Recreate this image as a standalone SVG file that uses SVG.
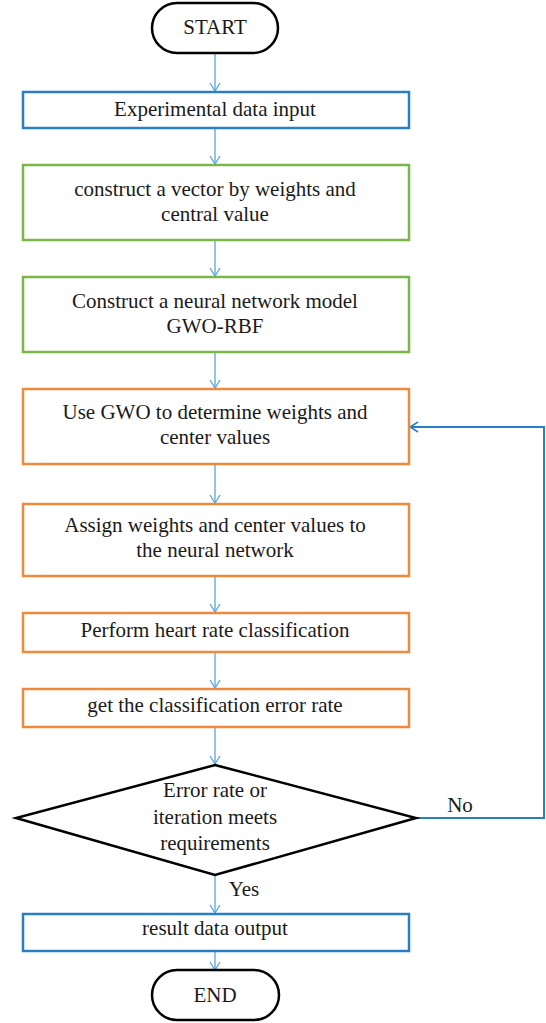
<svg xmlns="http://www.w3.org/2000/svg" width="546" height="1023" viewBox="0 0 546 1023">
<style>
text{font-family:"Liberation Serif","Times New Roman",serif;font-size:21px;fill:#1a1a1a;text-anchor:middle;dominant-baseline:central}
.blue{fill:#fff;stroke:#2b7ec1;stroke-width:2.5}
.green{fill:#fff;stroke:#7ab648;stroke-width:2.5}
.orange{fill:#fff;stroke:#ef8a3d;stroke-width:2.5}
.term{fill:#fff;stroke:#000;stroke-width:2.5}
.conn{stroke:#5aa6dd;stroke-width:1.3;fill:none;marker-end:url(#arr)}
</style>
<defs>
<marker id="arr" markerWidth="12" markerHeight="12" refX="10" refY="6" orient="auto" markerUnits="userSpaceOnUse">
<path d="M2,1 L10,6 L2,11" fill="none" stroke="#5aa6dd" stroke-width="1.3"/>
</marker>
<marker id="arr2" markerWidth="12" markerHeight="12" refX="10" refY="6" orient="auto" markerUnits="userSpaceOnUse">
<path d="M2,1 L10,6 L2,11" fill="none" stroke="#2b7ec1" stroke-width="1.5"/>
</marker>
</defs>
<g id="connectors">
<line class="conn" x1="215" y1="53" x2="215" y2="91"/>
<line class="conn" x1="215" y1="129" x2="215" y2="164"/>
<line class="conn" x1="215" y1="241" x2="215" y2="276"/>
<line class="conn" x1="215" y1="353" x2="215" y2="388"/>
<line class="conn" x1="215" y1="465" x2="215" y2="503"/>
<line class="conn" x1="215" y1="577" x2="215" y2="612"/>
<line class="conn" x1="215" y1="653" x2="215" y2="688"/>
<line class="conn" x1="215" y1="728" x2="215" y2="764"/>
<line class="conn" x1="215" y1="876" x2="215" y2="913"/>
<line class="conn" x1="215" y1="952" x2="215" y2="970"/>
<polyline points="416,818 544,818 544,427 410,427" fill="none" stroke="#2b7ec1" stroke-width="2" marker-end="url(#arr2)"/>
<text x="460" y="805">No</text>
<text x="244" y="889">Yes</text>
</g>
<g id="start"><rect class="term" x="152" y="3" width="126" height="50" rx="25"/><text x="215" y="27">START</text></g>
<g id="input"><rect class="blue" x="23" y="92" width="386" height="36"/><text x="215" y="109">Experimental data input</text></g>
<g id="vector"><rect class="green" x="23" y="165" width="386" height="75"/><text x="215" y="189">construct a vector by weights and</text><text x="215" y="214">central value</text></g>
<g id="model"><rect class="green" x="23" y="277" width="386" height="75"/><text x="215" y="301">Construct a neural network model</text><text x="215" y="326">GWO-RBF</text></g>
<g id="gwo"><rect class="orange" x="23" y="389" width="386" height="75"/><text x="215" y="412">Use GWO to determine weights and</text><text x="215" y="437">center values</text></g>
<g id="assign"><rect class="orange" x="23" y="504" width="386" height="72"/><text x="215" y="525">Assign weights and center values to</text><text x="215" y="550">the neural network</text></g>
<g id="classify"><rect class="orange" x="23" y="613" width="386" height="39"/><text x="215" y="630">Perform heart rate classification</text></g>
<g id="error"><rect class="orange" x="23" y="689" width="386" height="38"/><text x="215" y="705">get the classification error rate</text></g>
<g id="decision"><polygon points="215,765 416,818 215,875 16,818" fill="#fff" stroke="#000" stroke-width="2.5"/><text x="215" y="790">Error rate or</text><text x="215" y="817">iteration meets</text><text x="215" y="843">requirements</text></g>
<g id="output"><rect class="blue" x="23" y="914" width="386" height="37"/><text x="215" y="928">result data output</text></g>
<g id="end"><rect class="term" x="152" y="970" width="127" height="50" rx="25"/><text x="215" y="995">END</text></g>
</svg>
